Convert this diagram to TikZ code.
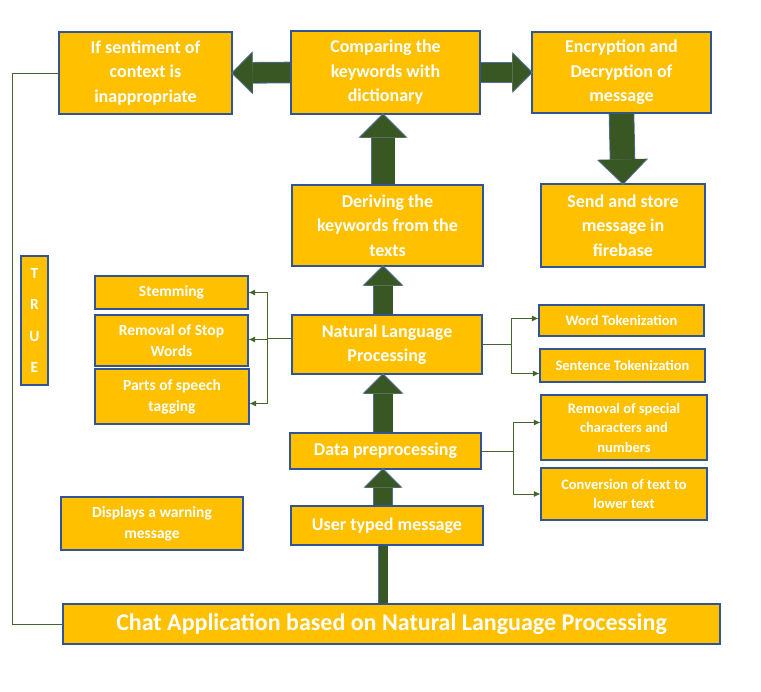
\documentclass[tikz,border=0pt]{standalone}
\usepackage{fontspec}
\setmainfont{Carlito}
\usepackage{xcolor}
\usepackage{tikz}
\usetikzlibrary{arrows.meta, positioning, calc}
\definecolor{ChatGold}{RGB}{255, 192, 0}
\definecolor{ChatBorder}{RGB}{47, 85, 151}
\definecolor{ChatArrow}{RGB}{56, 87, 35}
\definecolor{ChatEdge}{RGB}{84, 112, 160}
\definecolor{ChatLine}{RGB}{70, 100, 45}

\tikzset{
  flowbox/.style={rectangle, fill=ChatGold, draw=ChatBorder, line width=1.1pt,
    text=white, align=center, inner sep=0pt, font=\bfseries},
  bigtext/.style={font=\fontsize{18}{24.5}\selectfont\bfseries},
  lefttext/.style={font=\fontsize{15.5}{21}\selectfont\bfseries},
  righttext/.style={font=\fontsize{14.5}{19.5}\selectfont\bfseries},
  blockarrow/.style={draw=ChatArrow, line width=#1,
    -{Triangle[width=0pt 2, length=0pt 1, line width=0pt]},
    preaction={draw=ChatEdge, line width=#1+1.6pt, shorten >=-1.4pt}},
  branch/.style={draw=ChatLine, line width=0.9pt, -{Latex[length=6.5pt, width=6pt]}},
  loopline/.style={draw=ChatLine, line width=0.9pt}
}

\begin{document}
\begin{tikzpicture}[x=1pt, y=-1pt]
  \fill[white] (0,0) rectangle (761,692);
  \useasboundingbox (0,0) rectangle (761,692);
  \coordinate (axis) at (383,0);

  % top row
  \node[flowbox, bigtext, minimum width=173pt, minimum height=82pt] (ifbox) at (145.5,73)
    {If sentiment of\\context is\\inappropriate};
  \node[flowbox, bigtext, minimum width=189pt, minimum height=83pt] (compare) at (385.5,72.5)
    {Comparing the\\keywords with\\dictionary};
  \node[flowbox, bigtext, minimum width=179pt, minimum height=81pt] (encrypt) at (621.5,72.5)
    {Encryption and\\Decryption of\\message};
  \node[flowbox, bigtext, minimum width=164pt, minimum height=83pt] (store) at (623,225.5)
    {Send and store\\message in\\firebase};

  % main column
  \node[flowbox, bigtext, minimum width=191pt, minimum height=81pt] (derive) at (387.5,225.5)
    {Deriving the\\keywords from the\\texts};
  \node[flowbox, bigtext, minimum width=190pt, minimum height=59pt] (nlp) at (387,344.5)
    {Natural Language\\Processing};
  \node[flowbox, bigtext, minimum width=191pt, minimum height=36pt] (prep) at (385.5,451)
    {Data preprocessing};
  \node[flowbox, bigtext, minimum width=192pt, minimum height=39pt] (user) at (387,525.5)
    {User typed message};
  \node[flowbox, font=\fontsize{24}{28}\selectfont\bfseries,
    minimum width=657pt, minimum height=40pt] (chat) at (391.5,624)
    {Chat Application based on Natural Language Processing};

  % left side
  \node[flowbox, font=\fontsize{15.5}{31.5}\selectfont\bfseries,
    minimum width=27pt, minimum height=129pt] (truebox) at (34.5,320.5) {T\\R\\U\\E};
  \node[flowbox, lefttext, minimum width=182pt, minimum height=53pt] (warn) at (152,523.5)
    {Displays a warning\\message};
  \node[flowbox, lefttext, minimum width=153pt, minimum height=33pt] (stem) at (171.5,292.5)
    {Stemming};
  \node[flowbox, lefttext, minimum width=153pt, minimum height=51pt] (stop) at (171.5,340.5)
    {Removal of Stop\\Words};
  \node[flowbox, lefttext, minimum width=154pt, minimum height=55pt] (pos) at (172,396.5)
    {Parts of speech\\tagging};

  % right side
  \node[flowbox, righttext, minimum width=165pt, minimum height=31pt] (word) at (621.5,320.5)
    {Word Tokenization};
  \node[flowbox, righttext, minimum width=165pt, minimum height=33pt] (sent) at (622.5,365.5)
    {Sentence Tokenization};
  \node[flowbox, righttext, minimum width=166pt, minimum height=65pt] (special) at (624,427.5)
    {Removal of special\\characters and\\numbers};
  \node[flowbox, righttext, minimum width=166pt, minimum height=52pt] (lower) at (624,494)
    {Conversion of text to\\lower text};

  % block arrows
  \draw[draw=ChatArrow, line width=9pt, preaction={draw=ChatEdge, line width=10.6pt}]
    (chat.north -| axis) -- (user.south -| axis);
  \draw[blockarrow=18pt] (user.north -| axis) -- (prep.south -| axis);
  \draw[blockarrow=19pt] (prep.north -| axis) -- (nlp.south -| axis);
  \draw[blockarrow=19pt] (nlp.north -| axis) -- (derive.south -| axis);
  \draw[blockarrow=23pt] (derive.north -| axis) -- (compare.south -| axis);
  \draw[blockarrow=20pt] (compare.west) -- (ifbox.east);
  \draw[blockarrow=19pt] (compare.east) -- (encrypt.west);
  \draw[blockarrow=24pt] (encrypt.south) -- (store.north);

  % branches
  \draw[branch] ([yshift=6pt]nlp.west) -- ++(-24,0) |- (stem.east);
  \draw[branch] ([yshift=6pt]nlp.west) -- ++(-24,0) |- ([yshift=1pt]stop.east);
  \draw[branch] ([yshift=6pt]nlp.west) -- ++(-24,0) |- ([yshift=-7pt]pos.east);
  \draw[branch] (nlp.east) -- ++(29,0) |- ([yshift=2pt]word.west);
  \draw[branch] (nlp.east) -- ++(29,0) |- ([yshift=-8pt]sent.west);
  \draw[branch] (prep.east) -- ++(32,0) |- ([yshift=5pt]special.west);
  \draw[branch] (prep.east) -- ++(32,0) |- (lower.west);

  % loop back
  \draw[loopline] (chat.west) -- ++(-50,0) |- (ifbox.west);
\end{tikzpicture}
\end{document}
